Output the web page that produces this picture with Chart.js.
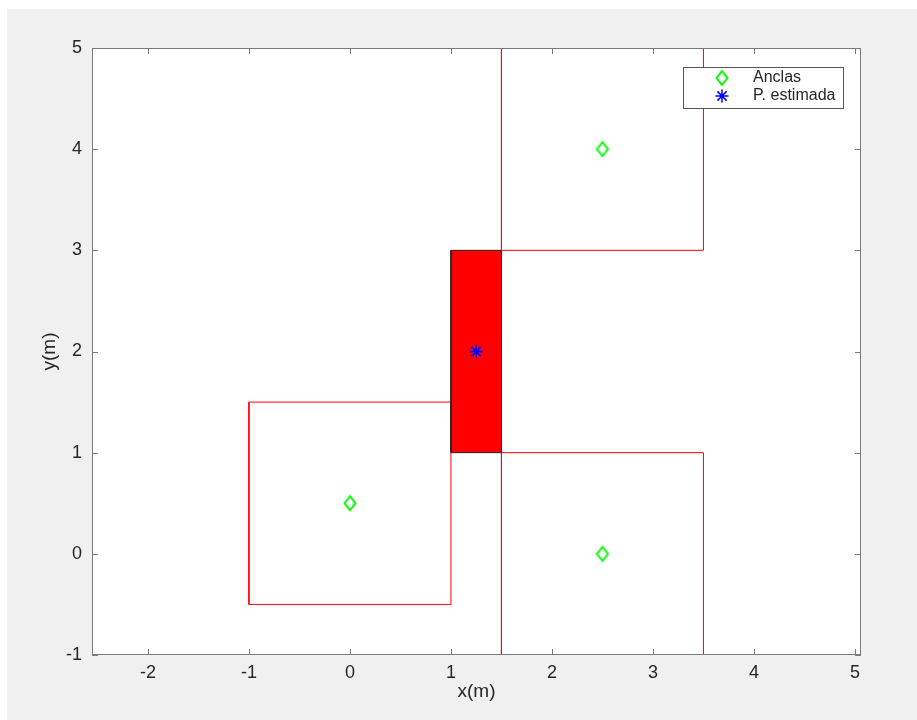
<!DOCTYPE html>
<html>
<head>
<meta charset="utf-8">
<script src="https://cdn.jsdelivr.net/npm/chart.js@4.4.0/dist/chart.umd.min.js"></script>
<style>
html, body { margin: 0; padding: 0; background: #fff; }
#fig { position: absolute; left: 7px; top: 9px; width: 910px; height: 711px; background: #f0f0f0; }
canvas { display: block; }
</style>
</head>
<body>
<div id="fig"><canvas id="plot" width="910" height="711"></canvas></div>
<script>
// axis limits and ticks
const xLimits = [-2.554, 5.06];
const yLimits = [-1, 5];
const xTicks = [-2, -1, 0, 1, 2, 3, 4, 5];
const yTicks = [-1, 0, 1, 2, 3, 4, 5];

// anchors (green diamonds)
const anchorX = [0, 2.5, 2.5];
const anchorY = [0.5, 4, 0];

// square zone round each anchor (red outlines)
const boxLeft   = [-1, 1.5, 1.5];
const boxRight  = [1, 3.5, 3.5];
const boxBottom = [-0.5, 3, -1];
const boxTop    = [1.5, 5, 1];

// intersection region (filled) and estimated position
const regionX = [1, 1.5];
const regionY = [1, 3];
const estX = [1.25];
const estY = [2];

const legendLabels = ['Anclas', 'P. estimada'];

const FONT = '"Liberation Sans", Arial, Helvetica, sans-serif';
const TEXT = '#262626';
const AXIS = '#7a7a7a';

function rectPath(l, r, b, t) {
  return [{x: l, y: b}, {x: r, y: b}, {x: r, y: t}, {x: l, y: t}, {x: l, y: b}];
}

// diamond marker, a bit taller than wide like matlab's
const diamond = document.createElement('canvas');
diamond.width = 14; diamond.height = 18;
const dctx = diamond.getContext('2d');
dctx.strokeStyle = '#00ff00';
dctx.lineWidth = 2;
dctx.beginPath();
dctx.moveTo(7, 2); dctx.lineTo(12.5, 9); dctx.lineTo(7, 16); dctx.lineTo(1.5, 9);
dctx.closePath();
dctx.stroke();

const datasets = [
  { label: legendLabels[1], data: estX.map((x, i) => ({x, y: estY[i]})),
    pointStyle: 'star', pointRadius: 6.5, borderColor: '#0000ff', borderWidth: 1.5, showLine: false },
  { label: legendLabels[0], data: anchorX.map((x, i) => ({x, y: anchorY[i]})),
    pointStyle: diamond, pointRadius: 8, showLine: false },
  { label: 'region', data: rectPath(regionX[0], regionX[1], regionY[0], regionY[1]),
    showLine: true, fill: 'shape', backgroundColor: '#ff0000', borderColor: '#222',
    borderWidth: 1, pointRadius: 0 }
];
boxLeft.forEach((l, i) => {
  datasets.push({ label: 'zona ' + i, data: rectPath(l, boxRight[i], boxBottom[i], boxTop[i]),
    showLine: true, fill: false, borderColor: '#ff0000', borderWidth: 1, pointRadius: 0 });
});

// white axes background
const axesBg = {
  id: 'axesBg',
  beforeDraw(chart) {
    const {ctx, chartArea: a} = chart;
    ctx.save();
    ctx.fillStyle = '#fff';
    ctx.fillRect(a.left, a.top, a.right - a.left, a.bottom - a.top);
    ctx.restore();
  }
};

// matlab style box with inward ticks on all four sides, plus legend
const axesBox = {
  id: 'axesBox',
  afterDraw(chart) {
    const {ctx, chartArea: a, scales: {x, y}} = chart;
    ctx.save();
    ctx.strokeStyle = AXIS;
    ctx.lineWidth = 1;
    ctx.strokeRect(a.left + 0.5, a.top + 0.5, a.right - a.left - 1, a.bottom - a.top - 1);
    ctx.beginPath();
    xTicks.forEach(v => {
      const px = Math.round(x.getPixelForValue(v)) + 0.5;
      ctx.moveTo(px, a.bottom); ctx.lineTo(px, a.bottom - 6);
      ctx.moveTo(px, a.top); ctx.lineTo(px, a.top + 6);
    });
    yTicks.forEach(v => {
      const py = Math.round(y.getPixelForValue(v)) + 0.5;
      ctx.moveTo(a.left, py); ctx.lineTo(a.left + 6, py);
      ctx.moveTo(a.right, py); ctx.lineTo(a.right - 6, py);
    });
    ctx.stroke();

    // legend
    const lx = 676, ly = 58, lw = 160, lh = 41;
    ctx.fillStyle = '#fff';
    ctx.fillRect(lx, ly, lw, lh);
    ctx.strokeStyle = '#555';
    ctx.strokeRect(lx + 0.5, ly + 0.5, lw, lh);
    ctx.drawImage(diamond, 715 - 7, 69 - 9);
    ctx.strokeStyle = '#0000ff';
    ctx.lineWidth = 1.5;
    Chart.helpers.drawPoint(ctx, {pointStyle: 'star', radius: 6.5, borderWidth: 1.5}, 715, 87);
    ctx.fillStyle = TEXT;
    ctx.font = '16px ' + FONT;
    ctx.textBaseline = 'middle';
    ctx.textAlign = 'left';
    ctx.fillText(legendLabels[0], 746, 68.5);
    ctx.fillText(legendLabels[1], 746, 86.5);
    ctx.restore();
  }
};

new Chart(document.getElementById('plot'), {
  type: 'scatter',
  data: { datasets },
  plugins: [axesBg, axesBox],
  options: {
    responsive: false,
    animation: false,
    devicePixelRatio: 1,
    layout: { padding: { left: 0, top: 39, right: 56, bottom: 0 } },
    plugins: { legend: { display: false }, tooltip: { enabled: false } },
    scales: {
      x: {
        type: 'linear', min: xLimits[0], max: xLimits[1],
        grid: { display: false, drawTicks: false },
        border: { display: false },
        afterBuildTicks: s => { s.ticks = xTicks.map(v => ({value: v})); },
        afterFit: s => { s.height = 65; },
        ticks: { color: TEXT, font: { family: FONT, size: 18 }, padding: 7, maxRotation: 0, autoSkip: false },
        title: { display: true, text: 'x(m)', color: TEXT, font: { family: FONT, size: 19 }, padding: { top: 0, bottom: 17 } }
      },
      y: {
        type: 'linear', min: yLimits[0], max: yLimits[1],
        grid: { display: false, drawTicks: false },
        border: { display: false },
        afterBuildTicks: s => { s.ticks = yTicks.map(v => ({value: v})); },
        afterFit: s => { s.width = 85; },
        ticks: { color: TEXT, font: { family: FONT, size: 18 }, padding: 10, autoSkip: false },
        title: { display: true, text: 'y(m)', color: TEXT, font: { family: FONT, size: 19 }, padding: { top: 31.6, bottom: 0 } }
      }
    }
  }
});
</script>
</body>
</html>
